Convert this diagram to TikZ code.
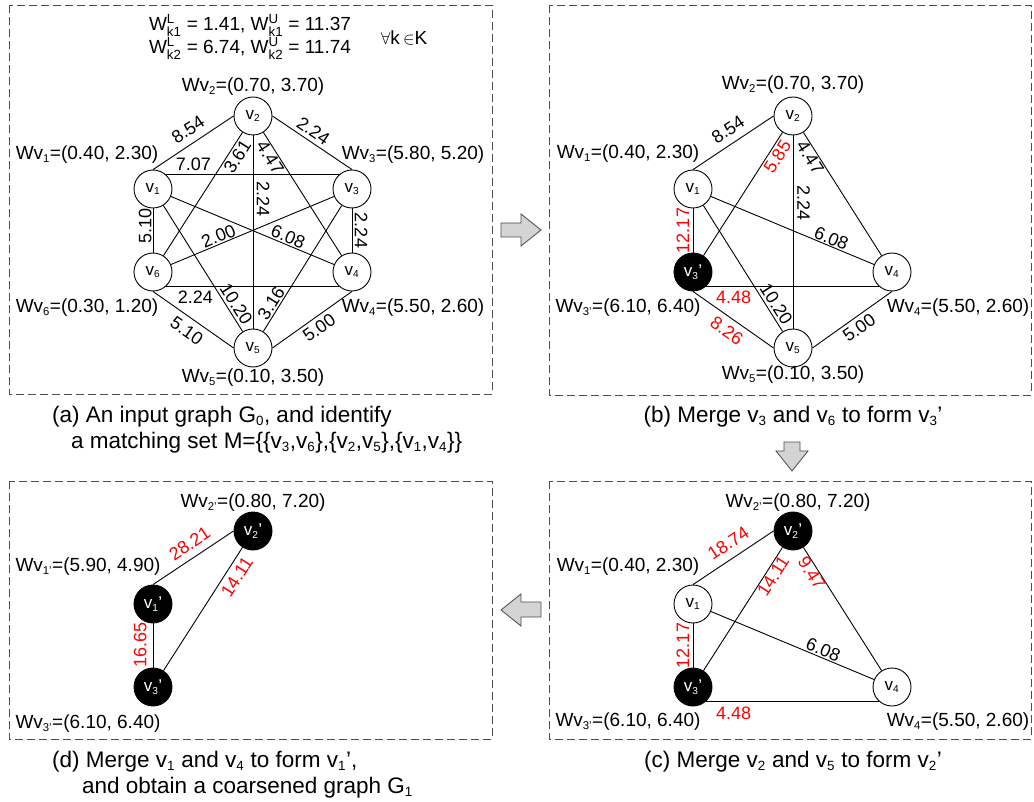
\documentclass[tikz,border=0pt]{standalone}
\usepackage{amsmath}
\usepackage{fontspec}
\setmainfont{Liberation Sans}
\newcommand{\sub}[1]{\textsubscript{\scalebox{.85}{#1}}}
\newcommand{\Wv}[1]{Wv\sub{#1}}
\newcommand{\vx}[1]{v\sub{#1}}

\begin{document}
\begin{tikzpicture}[x=1pt, y=-1pt,
	vert/.style={circle, draw, fill=white, line width=0.9pt, minimum size=38pt, inner sep=0pt, font=\fontsize{17}{18}\selectfont},
	merged/.style={vert, fill=black, text=white},
	link/.style={line width=0.9pt},
	elabel/.style={sloped, inner sep=1pt, font=\fontsize{18}{20}\selectfont},
	redlabel/.style={elabel, text=red},
	wlabel/.style={font=\fontsize{19}{23}\selectfont},
	panel/.style={draw=black!70, line width=0.9pt, dash pattern=on 8pt off 4pt},
	caption/.style={font=\fontsize{22.5}{26}\selectfont, inner sep=0pt},
	blockarrow/.style={fill=black!17, draw=black!70, line width=0.8pt}]

		\useasboundingbox (0,0) rectangle (1034,802);

		% (a) input graph
		\draw[panel] (9,5) rectangle (492,394);
		\node[wlabel, align=center] (bounds) at (250,37) {W$^{\text{L}}_{\text{k1}}$ = 1.41, W$^{\text{U}}_{\text{k1}}$ = 11.37\\W$^{\text{L}}_{\text{k2}}$ = 6.74, W$^{\text{U}}_{\text{k2}}$ = 11.74};
		\node[wlabel] (forall) at (404,38) {$\forall$k\,$\in$K};

		\node[vert] (a1) at (153,189) {\vx{1}};
		\node[vert] (a2) at (253,116) {\vx{2}};
		\node[vert] (a3) at (352,189) {\vx{3}};
		\node[vert] (a4) at (352,272) {\vx{4}};
		\node[vert] (a5) at (253,348) {\vx{5}};
		\node[vert] (a6) at (153,272) {\vx{6}};

		\draw[link] (a1.north) -- (a2.west) node[elabel, pos=.53, above=6pt] {8.54};
		\draw[link] (a2.east) -- (a3.north) node[elabel, pos=.44, above=3pt] {2.24};
		\draw[link] (a1.50) -- (a3.130) node[elabel, pos=.16, above=1.5pt] {7.07};
		\draw[link] (a6) -- (a2) node[elabel, pos=.84, below=1pt] {3.61};
		\draw[link] (a2) -- (a4) node[elabel, pos=.17, below=0pt] {4.47};
		\draw[link] (a2.south) -- (a5.north) node[elabel, pos=.33, above=2.5pt] {2.24};
		\draw[link] (a6.north) -- (a1.south) node[elabel, pos=.6, above=0pt] {5.10};
		\draw[link] (a3.south) -- (a4.north) node[elabel, pos=.5, above=1.5pt] {2.24};
		\draw[link] (a6) -- (a3) node[elabel, pos=.31, above=0pt] {2.00};
		\draw[link] (a1) -- (a4) node[elabel, pos=.7, above=0pt] {6.08};
		\draw[link] (a6.-48) -- (a4.-132) node[elabel, pos=.17, below=3.5pt] {2.24};
		\draw[link] (a1) -- (a5) node[elabel, pos=.82, above=1.5pt] {10.20};
		\draw[link] (a5) -- (a3) node[elabel, pos=.19, above=.5pt] {3.16};
		\draw[link] (a6.south) -- (a5.west) node[elabel, pos=.51, below=5pt] {5.10};
		\draw[link] (a5.east) -- (a4.south) node[elabel, pos=.51, below=2.7pt] {5.00};

		\node[wlabel] (wa2) at (253,87) {\Wv{2}=(0.70, 3.70)};
		\node[wlabel] (wa1) at (87,155) {\Wv{1}=(0.40, 2.30)};
		\node[wlabel] (wa3) at (413,155) {\Wv{3}=(5.80, 5.20)};
		\node[wlabel] (wa6) at (87,308) {\Wv{6}=(0.30, 1.20)};
		\node[wlabel] (wa4) at (413,308) {\Wv{4}=(5.50, 2.60)};
		\node[wlabel] (wa5) at (253,378) {\Wv{5}=(0.10, 3.50)};

		\node[caption, anchor=north west, align=left] (capa) at (52,405.5) {(a) An input graph G\sub{0}, and identify\\\hspace*{19pt}a matching set M=\{\{\vx{3},\vx{6}\},\{\vx{2},\vx{5}\},\{\vx{1},\vx{4}\}\}};

		% (b) merge v3 and v6
		\begin{scope}[shift={(540,0)}]
			\draw[panel] (9,5) rectangle (491,395);
			\node[vert] (b1) at (153,189) {\vx{1}};
			\node[vert] (b2) at (253,116) {\vx{2}};
			\node[merged] (b3) at (153,272) {\vx{3}'};
			\node[vert] (b4) at (352,272) {\vx{4}};
			\node[vert] (b5) at (253,348) {\vx{5}};

			\draw[link] (b1.north) -- (b2.west) node[elabel, pos=.53, above=6pt] {8.54};
			\draw[link] (b3) -- (b2) node[redlabel, pos=.84, below=1pt] {5.85};
			\draw[link] (b2) -- (b4) node[elabel, pos=.17, below=0pt] {4.47};
			\draw[link] (b2.south) -- (b5.north) node[elabel, pos=.35, above=3pt] {2.24};
			\draw[link] (b1) -- (b4) node[elabel, pos=.72, above=0pt] {6.08};
			\draw[link] (b3.north) -- (b1.south) node[redlabel, pos=.5, above=2.5pt] {12.17};
			\draw[link] (b3.-48) -- (b4.-132) node[redlabel, pos=.16, below=3.5pt] {4.48};
			\draw[link] (b1) -- (b5) node[elabel, pos=.82, above=1.5pt] {10.20};
			\draw[link] (b3.south) -- (b5.west) node[redlabel, pos=.51, below=5pt] {8.26};
			\draw[link] (b5.east) -- (b4.south) node[elabel, pos=.51, below=2.7pt] {5.00};

			\node[wlabel] (wb2) at (253,85) {\Wv{2}=(0.70, 3.70)};
			\node[wlabel] (wb1) at (88,154) {\Wv{1}=(0.40, 2.30)};
			\node[wlabel] (wb3) at (88,308) {\Wv{3'}=(6.10, 6.40)};
			\node[wlabel] (wb4) at (418,308) {\Wv{4}=(5.50, 2.60)};
			\node[wlabel] (wb5) at (253,375) {\Wv{5}=(0.10, 3.50)};

			\node[caption] (capb) at (253,417) {(b) Merge \vx{3} and \vx{6} to form \vx{3}'};
		\end{scope}

		% (c) merge v2 and v5
		\begin{scope}[shift={(540,415)}]
			\draw[panel] (9,66) rectangle (491,324);
			\node[vert] (c1) at (153,189) {\vx{1}};
			\node[merged] (c2) at (253,116) {\vx{2}'};
			\node[merged] (c3) at (153,272) {\vx{3}'};
			\node[vert] (c4) at (352,272) {\vx{4}};

			\draw[link] (c1.north) -- (c2.west) node[redlabel, pos=.54, above=7pt] {18.74};
			\draw[link] (c3) -- (c2) node[redlabel, pos=.8, below=0pt] {14.11};
			\draw[link] (c2) -- (c4) node[redlabel, pos=.18, below=-1pt] {9.47};
			\draw[link] (c1) -- (c4) node[elabel, pos=.67, above=0pt] {6.08};
			\draw[link] (c3.north) -- (c1.south) node[redlabel, pos=.5, above=2.5pt] {12.17};
			\draw[link] (c3.-48) -- (c4.-132) node[redlabel, pos=.16, below=4.5pt] {4.48};

			\node[wlabel] (wc2) at (258,88) {\Wv{2'}=(0.80, 7.20)};
			\node[wlabel] (wc1) at (88,152) {\Wv{1}=(0.40, 2.30)};
			\node[wlabel] (wc3) at (88,307) {\Wv{3'}=(6.10, 6.40)};
			\node[wlabel] (wc4) at (418,307) {\Wv{4}=(5.50, 2.60)};

			\node[caption] (capc) at (253,347) {(c) Merge \vx{2} and \vx{5} to form \vx{2}'};
		\end{scope}

		% (d) merge v1 and v4
		\begin{scope}[shift={(0,415)}]
			\draw[panel] (9,66) rectangle (492,324);
			\node[merged] (d1) at (153,189) {\vx{1}'};
			\node[merged] (d2) at (253,116) {\vx{2}'};
			\node[merged] (d3) at (153,272) {\vx{3}'};

			\draw[link] (d1.north) -- (d2.west) node[redlabel, pos=.55, above=6pt] {28.21};
			\draw[link] (d3) -- (d2) node[redlabel, pos=.81, below=3.5pt] {14.11};
			\draw[link] (d3.north) -- (d1.south) node[redlabel, pos=.51, above=5pt] {16.65};

			\node[wlabel] (wd2) at (253,88) {\Wv{2'}=(0.80, 7.20)};
			\node[wlabel] (wd1) at (88,152) {\Wv{1'}=(5.90, 4.90)};
			\node[wlabel] (wd3) at (88,309) {\Wv{3'}=(6.10, 6.40)};

			\node[caption, anchor=north west, align=left] (capd) at (52,335.6) {(d) Merge \vx{1} and \vx{4} to form \vx{1}',\\\hspace*{30pt}and obtain a coarsened graph G\sub{1}};
		\end{scope}

		% block arrows between panels
		\draw[blockarrow] (501,223) -- (521,223) -- (521,214) -- (541,230) -- (521,246) -- (521,237) -- (501,237) -- cycle;
		\draw[blockarrow] (784,442) -- (800,442) -- (800,451) -- (808,451) -- (792,471) -- (776,451) -- (784,451) -- cycle;
		\draw[blockarrow] (541,602) -- (521,602) -- (521,594) -- (501,610) -- (521,626) -- (521,617) -- (541,617) -- cycle;
	\end{tikzpicture}
\end{document}
